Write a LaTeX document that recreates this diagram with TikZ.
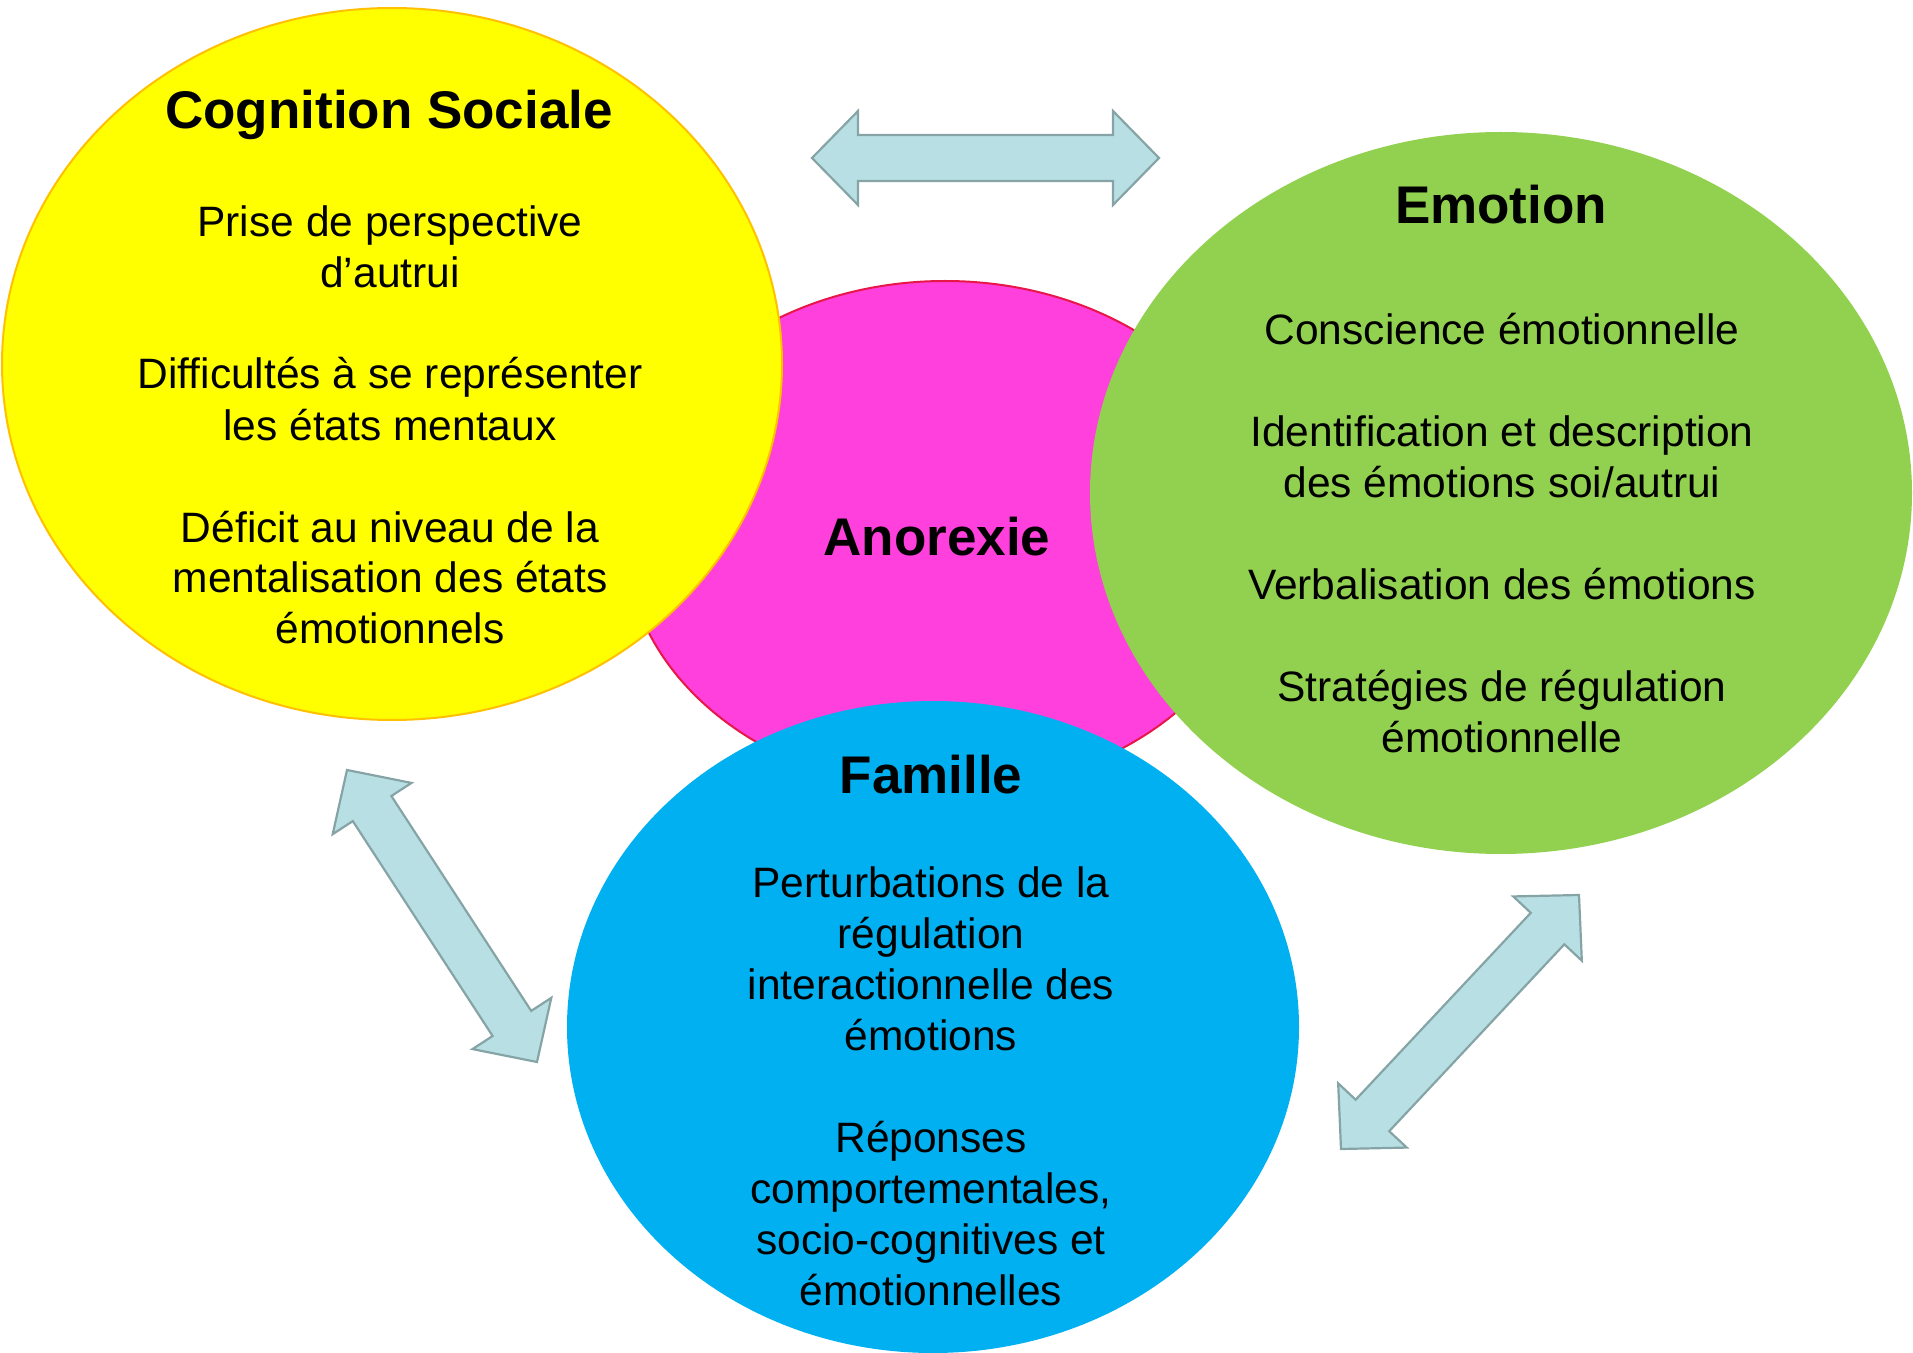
\documentclass[tikz,border=0pt]{standalone}
\usepackage{fontspec}
\setmainfont{Liberation Sans}
\usetikzlibrary{calc,shapes.geometric}
\definecolor{cyel}{RGB}{255,255,0}
\definecolor{cyelline}{RGB}{255,192,0}
\definecolor{cmag}{RGB}{255,64,220}
\definecolor{cmagline}{RGB}{232,23,74}
\definecolor{cgreen}{RGB}{146,208,80}
\definecolor{cblue}{RGB}{0,176,240}
\definecolor{carrow}{RGB}{184,224,228}
\definecolor{carrowline}{RGB}{134,164,166}
\newcommand\blockarrow[3]{%
  \coordinate (#1ha) at ($(#2)!23pt!(#3)$);
  \coordinate (#1hb) at ($(#3)!23pt!(#2)$);
  \draw[arrowbox] (#2) -- ($(#1ha)!23.5pt!90:(#3)$) -- ($(#1ha)!11.5pt!90:(#3)$)
    -- ($(#1hb)!11.5pt!-90:(#2)$) -- ($(#1hb)!23.5pt!-90:(#2)$) -- (#3)
    -- ($(#1hb)!23.5pt!90:(#2)$) -- ($(#1hb)!11.5pt!90:(#2)$)
    -- ($(#1ha)!11.5pt!-90:(#3)$) -- ($(#1ha)!23.5pt!-90:(#3)$) -- cycle;
}
\begin{document}
\begin{tikzpicture}[x=0.5pt,y=-0.5pt,
  blob/.style={ellipse, inner sep=0pt, line width=1pt},
  titletext/.style={anchor=base, font=\fontsize{26.5pt}{31pt}\selectfont\bfseries, inner sep=0pt},
  bodytext/.style={anchor=base, align=center, font=\fontsize{21.25pt}{25.5pt}\selectfont, inner sep=0pt},
  arrowbox/.style={fill=carrow, draw=carrowline, line width=1.1pt, line join=miter}]
\useasboundingbox (0,0) rectangle (1913,1353);
% ellipses
\node[blob, fill=cmag, draw=cmagline, minimum width=640pt/2, minimum height=510pt/2] (anorexie) at (945,536) {};
\node[blob, fill=cyel, draw=cyelline, minimum width=780pt/2, minimum height=712pt/2] (cognition) at (392,364) {};
\node[blob, fill=cgreen, minimum width=822pt/2, minimum height=722pt/2] (emotion) at (1501,493) {};
\node[blob, fill=cblue, minimum width=732pt/2, minimum height=652pt/2] (famille) at (933,1027) {};
% texts (multi-line nodes: base anchor is on the last line)
\node[titletext] (tano) at (937,556) {Anorexie};
\node[titletext] (tcog) at (389,129) {Cognition Sociale};
\node[bodytext] (bcog) at (390,644) {Prise de perspective\\d’autrui\\[25.5pt]Difficultés à se représenter\\les états mentaux\\[25.5pt]Déficit au niveau de la\\mentalisation des états\\émotionnels};
\node[titletext] (temo) at (1501,224) {Emotion};
\node[bodytext] (bemo) at (1502,752) {Conscience émotionnelle\\[25.5pt]Identification et description\\des émotions soi/autrui\\[25.5pt]Verbalisation des émotions\\[25.5pt]Stratégies de régulation\\émotionnelle};
\node[titletext] (tfam) at (931,793) {Famille};
\node[bodytext] (bfam) at (931,1305) {Perturbations de la\\régulation\\interactionnelle des\\émotions\\[25.5pt]Réponses\\comportementales,\\socio-cognitives et\\émotionnelles};
% block arrows
\coordinate (topL) at (812,158);
\coordinate (topR) at (1159,158);
\coordinate (leftT) at (347,770);
\coordinate (leftB) at (537,1062);
\coordinate (rightB) at (1341,1149);
\coordinate (rightT) at (1579,895);
\blockarrow{ta}{topL}{topR}
\blockarrow{la}{leftT}{leftB}
\blockarrow{ra}{rightB}{rightT}
\end{tikzpicture}
\end{document}
